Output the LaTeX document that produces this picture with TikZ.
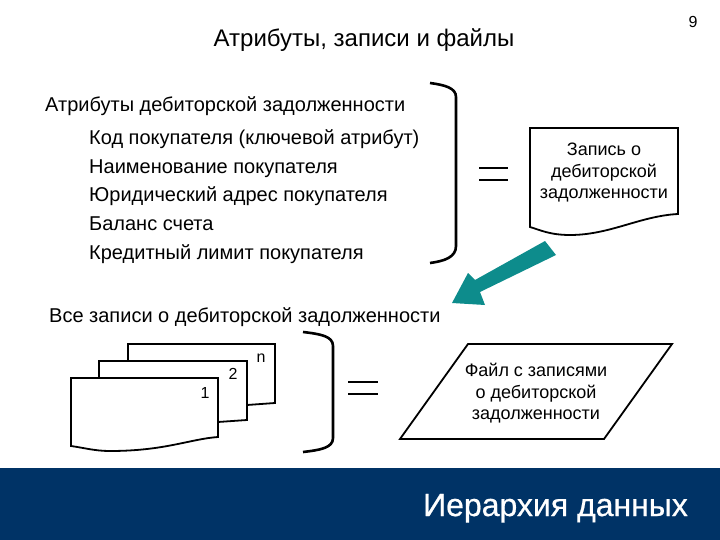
\documentclass[tikz,border=0pt]{standalone}
\usepackage{fontspec}
\setmainfont{Liberation Sans}
\newfontfamily\bandfont[FakeBold=0.6]{Liberation Sans}
\definecolor{bandblue}{RGB}{0,51,102}
\definecolor{arrowteal}{RGB}{13,140,140}
\tikzset{every node/.style={inner sep=0pt,font=\fontsize{20}{20}\selectfont},
  heavy/.style={line width=2.6pt,line join=miter},
  paper/.style={draw,line width=1.8pt,fill=white},
  boxtext/.style={align=center,font=\fontsize{18}{21.5}\selectfont},
  smallnum/.style={font=\fontsize{16}{16}\selectfont}}

\begin{document}
\begin{tikzpicture}[x=1pt,y=-1pt]
    \useasboundingbox (0,0) rectangle (720,540);
    % band
    \fill[bandblue] (0,468) rectangle (720,540);
    \node[anchor=base,text=white,font=\bandfont\fontsize{32}{32}\selectfont] (bandtitle) at (555.5,516) {Иерархия данных};
    \node[smallnum] (pagenum) at (693,22) {9};
    \node[anchor=base,font=\fontsize{24}{24}\selectfont] (title) at (364,47) {Атрибуты, записи и файлы};
    % attributes
    \node[anchor=base west] (attrhead) at (45,112) {Атрибуты дебиторской задолженности};
    \foreach\n/\y/\t in {1/145/Код покупателя (ключевой атрибут), 2/174/Наименование покупателя,
      3/202/Юридический адрес покупателя, 4/230/Баланс счета, 5/259/Кредитный лимит покупателя}
      \node[anchor=base west] (attr\n) at (89,\y) {\t};
    \draw[heavy] (430,83) .. controls (445,85) and (456,88) .. (456,97) -- (456,246) .. controls (456,257) and (445,261) .. (430,263);
    \draw[heavy] (479,168) -- (508,168) (479,180) -- (508,180);
    % record
    \draw[paper] (530,128) -- (678,128) -- (678,214) .. controls (640,216) and (610,235) .. (570,235) .. controls (550,235) and (540,230) .. (530,227) -- cycle;
    \node[boxtext] (record) at (604,173) {Запись о\\дебиторской\\задолженности};
    % arrow
    \fill[arrowteal] (545,241) -- (556,255) -- (480,292) -- (485,305) -- (452,303) -- (468,273) -- (475,280) -- cycle;
    \node[anchor=base west] (allhead) at (49,322) {Все записи о дебиторской задолженности};
    % stack
    \draw[paper] (128,344) -- (275,344) -- (275,403) -- (247,405) -- (128,405) -- cycle;
    \draw[paper] (99,361) -- (247,361) -- (247,420) -- (218,422) -- (99,422) -- cycle;
    \draw[paper] (71,378) -- (218,378) -- (218,437) .. controls (190,439) and (165,451) .. (110,451) .. controls (95,451) and (85,448) .. (71,446) -- cycle;
    \node[smallnum] (num1) at (205,393) {1};
    \node[smallnum] (num2) at (233,374) {2};
    \node[smallnum] (numn) at (261,358) {n};
    \draw[heavy] (303,332) .. controls (320,334) and (333,336) .. (333,346) -- (333,438) .. controls (333,448) and (320,450) .. (303,452);
    \draw[heavy] (348,382) -- (378,382) (348,394) -- (378,394);
    % file
    \draw[paper] (468,344) -- (672,344) -- (604,439) -- (400,439) -- cycle;
    \node[boxtext] (file) at (536,393.5) {Файл с записями\\о дебиторской\\задолженности};
\end{tikzpicture}
\end{document}
